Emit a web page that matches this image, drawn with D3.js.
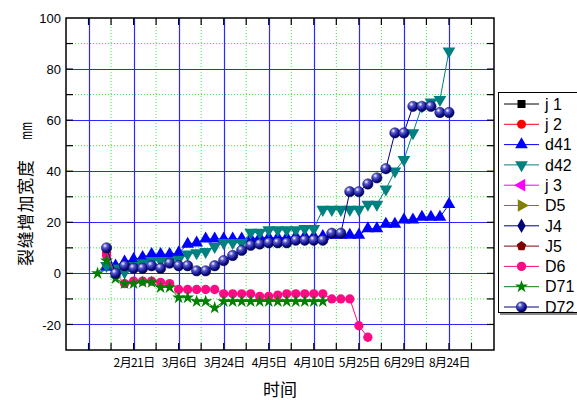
<!DOCTYPE html>
<html>
<head>
<meta charset="utf-8">
<script src="https://cdn.jsdelivr.net/npm/d3@7"></script>
<style>
  html, body { margin: 0; padding: 0; background: #fff; }
  svg { display: block; }
  text { font-family: "Liberation Sans", "Noto Sans CJK SC", sans-serif; fill: #000; }
</style>
</head>
<body>
<svg id="chart" width="577" height="400"></svg>
<script>
// ---- data ----
const seriesNames = ["j 1", "j 2", "d41", "d42", "j 3", "D5", "J4", "J5", "D6", "D71", "D72"];
const xTickValues = [0, 5, 10, 15, 20, 25, 30, 35, 40, 45];
const xTickLabels = ["", "2月21日", "3月6日", "3月24日", "4月5日", "4月10日", "5月25日", "6月29日", "8月24日", ""];
const yTickValues = [-20, 0, 20, 40, 60, 80, 100];

// each series: first x index, then consecutive values
const j1Start = 2,  j1 = [];
const j2Start = 2,  j2 = [8];
const d41Start = 2, d41 = [2.5, 3, 4.5, 5.5, 6.3, 7.5, 7.5, 7.5, 8, 11.5, 12, 13.5, 13.5, 13.5, 13.5, 13.5, 13.5,
  14, 14, 14, 14, 14.5, 14.5, 14.5, 14.5, 15, 15, 15, 15, 17.5, 17.5, 19.3, 19.3, 21, 21, 22, 22, 22, 27];
const d42Start = 2, d42 = [3, 2, 0.5, 3, 4, 5, 5, 5, 5.5, 7.5, 8, 8.5, 10.5, 12, 12, 12, 16, 16,
  17, 17, 17, 17, 17.5, 17.5, 25, 25, 25, 25, 25, 27, 27, 33, 40, 44.5, 55, 65.5, 67, 68, 87];
const j3Start = 2,  j3 = [];
const D5Start = 2,  D5 = [];
const J4Start = 2,  J4 = [];
const J5Start = 2,  J5 = [];
const D6Start = 2,  D6 = [7, 0, -4, -3, -3, -3, -3.5, -4, -6.3, -6.3, -6.3, -6.3, -6.3, -8, -8, -8, -8,
  -9, -9, -8.5, -8, -8, -8, -8, -8, -10, -10, -10, -20.5, -25];
const D71Start = 1, D71 = [0, 5, -2, -4, -4, -3.5, -3.5, -5.5, -5.5, -9.5, -9.5, -11, -11, -13.5,
  -11, -11, -11, -11, -11, -11, -11, -11, -11, -11, -11, -11];
const D72Start = 2, D72 = [10, 0, 3, 2, 2, 3, 2, 4, 3, 3, 1, 1, 3, 5, 7, 9, 11, 11.5, 12, 12, 12, 13, 13, 13, 13,
  15.7, 15.7, 32, 32, 35, 37.4, 41, 55, 55, 65.4, 65.4, 65.4, 63, 63];

// ---- layout ----
const svg = d3.select("#chart");
const L = 66, R = 494, T = 18, B = 350;
const x = d3.scaleLinear().domain([-2.5, 45]).range([L, R]);
const y = d3.scaleLinear().domain([-30, 100]).range([B, T]);

const defs = svg.append("defs");
const grad = defs.append("radialGradient").attr("id", "sphere")
  .attr("cx", "35%").attr("cy", "30%").attr("r", "70%");
grad.append("stop").attr("offset", "0%").attr("stop-color", "#ffffff");
grad.append("stop").attr("offset", "30%").attr("stop-color", "#5a5ad0");
grad.append("stop").attr("offset", "75%").attr("stop-color", "#10108a");
grad.append("stop").attr("offset", "100%").attr("stop-color", "#000050");

// ---- grid ----
const grid = svg.append("g");
const minorX = d3.range(-2.5 + 5, 45, 5);   // 2.5, 7.5, ...
const majorX = d3.range(0, 45, 5);
const minorY = d3.range(-10, 100, 20);
const majorY = d3.range(-20, 100, 20);
grid.selectAll(".gmx").data(minorX).join("line")
  .attr("x1", d => x(d)).attr("x2", d => x(d)).attr("y1", T).attr("y2", B)
  .attr("stroke", "#33ee33").attr("stroke-width", 1).attr("stroke-dasharray", "1,2");
grid.selectAll(".gmy").data(minorY).join("line")
  .attr("x1", L).attr("x2", R).attr("y1", d => y(d)).attr("y2", d => y(d))
  .attr("stroke", "#33ee33").attr("stroke-width", 1).attr("stroke-dasharray", "1,2");
grid.selectAll(".gMx").data(majorX).join("line")
  .attr("x1", d => Math.round(x(d)) + 0.5).attr("x2", d => Math.round(x(d)) + 0.5).attr("y1", T).attr("y2", B)
  .attr("stroke", "#2828ff").attr("stroke-width", 1.2);
grid.selectAll(".gMy").data(majorY).join("line")
  .attr("x1", L).attr("x2", R).attr("y1", d => Math.round(y(d)) + 0.5).attr("y2", d => Math.round(y(d)) + 0.5)
  .attr("stroke", "#2828ff").attr("stroke-width", 1.2);

// ---- axes ----
const xBottom = d3.axisBottom(x).tickValues(xTickValues).tickFormat((d, i) => xTickLabels[i]).tickSize(0).tickPadding(8);
const gxb = svg.append("g").attr("transform", `translate(0,${B})`).call(xBottom);
gxb.select(".domain").remove();
gxb.selectAll("text").style("font-family", "'Noto Sans CJK SC', sans-serif").style("font-size", "12px")
  .attr("letter-spacing", "-0.6");

const yLeft = d3.axisLeft(y).tickValues(yTickValues).tickFormat(d => String(d)).tickSize(0).tickPadding(5);
const gyl = svg.append("g").attr("transform", `translate(${L},0)`).call(yLeft);
gyl.select(".domain").remove();
gyl.selectAll("text").style("font-size", "13px").attr("dy", "0.35em");

// inward tick marks on all four sides
const ticks = svg.append("g").attr("stroke", "#000").attr("stroke-width", 1.2);
const inX = d3.range(0, 45, 2.5);
ticks.selectAll(".tb").data(inX).join("line")
  .attr("x1", d => x(d)).attr("x2", d => x(d)).attr("y1", B).attr("y2", B - 7);
ticks.selectAll(".tt").data(inX).join("line")
  .attr("x1", d => x(d)).attr("x2", d => x(d)).attr("y1", T).attr("y2", T + 7);
const inY = d3.range(-20, 100, 10);
ticks.selectAll(".tl").data(inY).join("line")
  .attr("x1", L).attr("x2", L + 7).attr("y1", d => y(d)).attr("y2", d => y(d));
ticks.selectAll(".tr").data(inY).join("line")
  .attr("x1", R).attr("x2", R - 7).attr("y1", d => y(d)).attr("y2", d => y(d));

svg.append("rect").attr("x", L).attr("y", T).attr("width", R - L).attr("height", B - T)
  .attr("fill", "none").attr("stroke", "#000").attr("stroke-width", 1.5);

// ---- titles ----
svg.append("text").attr("x", (L + R) / 2).attr("y", 388).attr("text-anchor", "middle")
  .attr("dominant-baseline", "central")
  .style("font-family", "'Noto Sans CJK SC', sans-serif").style("font-size", "17px").text("时间");
svg.append("text").attr("transform", "translate(24,213) rotate(-90)").attr("text-anchor", "middle")
  .attr("dominant-baseline", "central")
  .attr("textLength", 106).attr("lengthAdjust", "spacing")
  .style("font-family", "'Noto Sans CJK SC', sans-serif").style("font-size", "17px").text("裂缝增加宽度");
svg.append("text").attr("transform", "translate(25,131) rotate(-90)").attr("text-anchor", "middle")
  .attr("dominant-baseline", "central")
  .attr("textLength", 18).attr("lengthAdjust", "spacingAndGlyphs")
  .style("font-family", "'Noto Sans CJK SC', sans-serif").style("font-size", "15px").text("mm");

// ---- series ----
function pentagon(r) {
  const pts = d3.range(5).map(i => {
    const a = -Math.PI / 2 + i * 2 * Math.PI / 5;
    return [r * Math.cos(a), r * Math.sin(a)];
  });
  return "M" + pts.map(p => p.join(",")).join("L") + "Z";
}
const styles = {
  "j 1": { color: "#000000", line: "#000000", path: d3.symbol(d3.symbolSquare, 64)() },
  "j 2": { color: "#ff0000", line: "#ff0000", path: d3.symbol(d3.symbolCircle, 64)() },
  "d41": { color: "#0000ff", line: "#0000ff", path: d3.symbol(d3.symbolTriangle, 70)() },
  "d42": { color: "#008080", line: "#008080", path: d3.symbol(d3.symbolTriangle, 70)(), rot: 180 },
  "j 3": { color: "#ff00ff", line: "#ff00ff", path: d3.symbol(d3.symbolTriangle, 70)(), rot: -90 },
  "D5":  { color: "#808000", line: "#808000", path: d3.symbol(d3.symbolTriangle, 70)(), rot: 90 },
  "J4":  { color: "#000080", line: "#000080", path: d3.symbol(d3.symbolDiamond, 60)() },
  "J5":  { color: "#800000", line: "#800000", path: pentagon(5) },
  "D6":  { color: "#ff0a84", line: "#ff0a84", path: d3.symbol(d3.symbolCircle, 68)() },
  "D71": { color: "#008000", line: "#008000", path: d3.symbol(d3.symbolStar, 52)() },
  "D72": { color: "#000080", line: "#000080", sphere: true }
};
const seriesData = {
  "j 1": [j1Start, j1], "j 2": [j2Start, j2], "d41": [d41Start, d41], "d42": [d42Start, d42],
  "j 3": [j3Start, j3], "D5": [D5Start, D5], "J4": [J4Start, J4], "J5": [J5Start, J5],
  "D6": [D6Start, D6], "D71": [D71Start, D71], "D72": [D72Start, D72]
};
const line = d3.line().x(d => x(d[0])).y(d => y(d[1]));

function drawMarker(g, st, cx, cy) {
  if (st.sphere) {
    g.append("circle").attr("cx", cx).attr("cy", cy).attr("r", 5.2)
      .attr("fill", "url(#sphere)").attr("stroke", "#000060").attr("stroke-width", 0.5);
  } else {
    g.append("path").attr("d", st.path)
      .attr("transform", `translate(${cx},${cy})` + (st.rot ? ` rotate(${st.rot})` : ""))
      .attr("fill", st.color);
  }
}

const plot = svg.append("g");
seriesNames.forEach(name => {
  const [start, vals] = seriesData[name];
  const pts = vals.map((v, i) => [start + i, v]);
  const st = styles[name];
  const g = plot.append("g");
  if (pts.length > 1) {
    g.append("path").datum(pts).attr("d", line).attr("fill", "none")
      .attr("stroke", st.line).attr("stroke-width", 1);
  }
  pts.forEach(p => drawMarker(g, st, x(p[0]), y(p[1])));
});

// ---- legend ----
const lg = svg.append("g");
lg.append("rect").attr("x", 500).attr("y", 94).attr("width", 80).attr("height", 221).attr("fill", "#888");
lg.append("rect").attr("x", 498.5).attr("y", 92.5).attr("width", 80).attr("height", 220)
  .attr("fill", "#fff").attr("stroke", "#000").attr("stroke-width", 1);
seriesNames.forEach((name, i) => {
  const cy = 104 + i * 20.3;
  const st = styles[name];
  lg.append("line").attr("x1", 504).attr("x2", 539).attr("y1", cy).attr("y2", cy)
    .attr("stroke", st.line).attr("stroke-width", 1);
  drawMarker(lg, st, 521.5, cy);
  lg.append("text").attr("x", 545).attr("y", cy).attr("dy", "0.36em")
    .style("font-size", "16px").text(name);
});
</script>
</body>
</html>
